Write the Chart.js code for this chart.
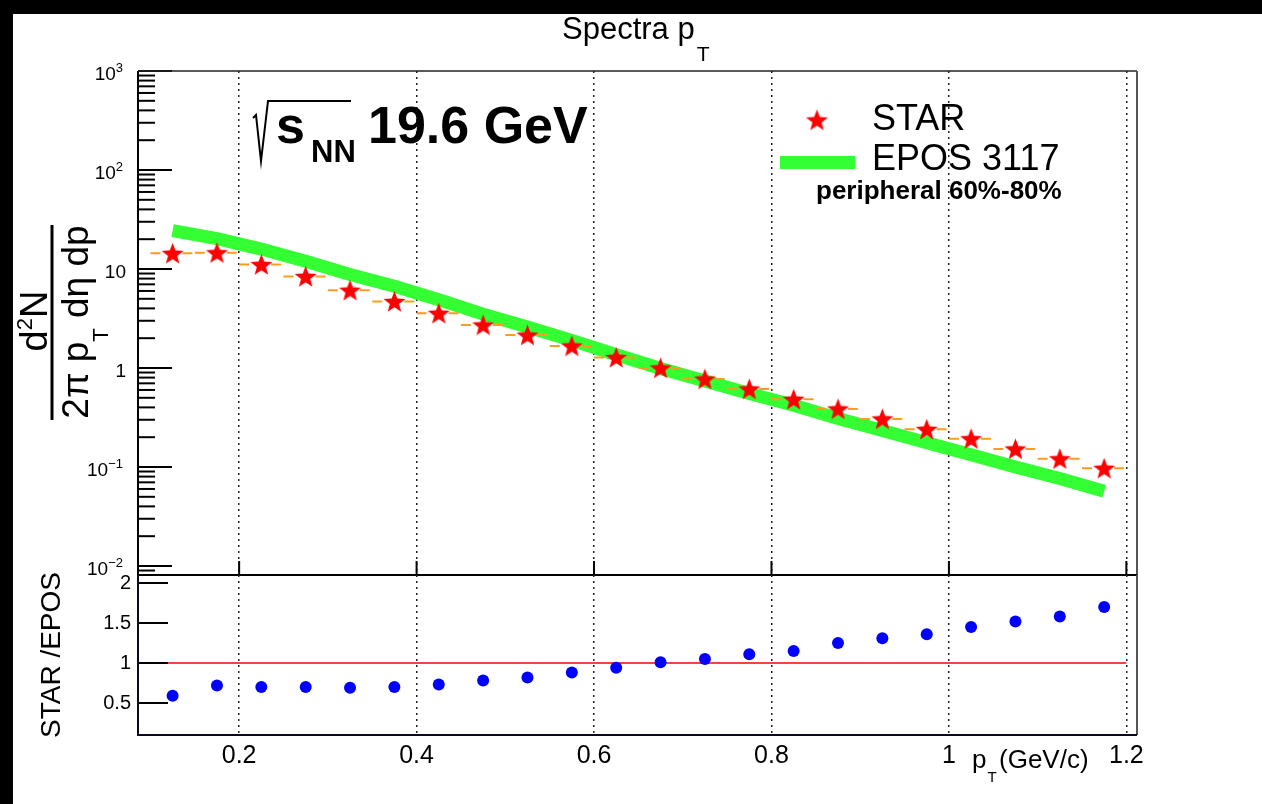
<!DOCTYPE html>
<html>
<head>
<meta charset="utf-8">
<script src="https://cdn.jsdelivr.net/npm/chart.js@4.4.1/dist/chart.umd.min.js"></script>
<style>
html, body { margin: 0; padding: 0; background: #fff; }
#wrap { position: relative; width: 1262px; height: 804px; overflow: hidden; background: #fff; }
canvas { position: absolute; left: 0; top: 0; }
.bar { position: absolute; background: #000; }
</style>
</head>
<body>
<div id="wrap">
  <canvas id="spectra" width="1262" height="804"></canvas>
  <canvas id="ratio" width="1262" height="804"></canvas>
  <div class="bar" style="left:0;top:0;width:1262px;height:14px"></div>
  <div class="bar" style="left:0;top:0;width:13px;height:804px"></div>
</div>
<script>
var FONT = '"Liberation Sans", Arial, Helvetica, sans-serif';
Chart.defaults.font.family = FONT;
Chart.defaults.color = '#000';

// values
var ptBins = [0.125, 0.175, 0.225, 0.275, 0.325, 0.375, 0.425, 0.475, 0.525, 0.575, 0.625,
              0.675, 0.725, 0.775, 0.825, 0.875, 0.925, 0.975, 1.025, 1.075, 1.125, 1.175];
var binHalfWidth = 0.025;
var starValues = [14.4, 14.6, 11.1, 8.4, 6.1, 4.7, 3.57, 2.72, 2.15, 1.67, 1.28,
                  1.0, 0.774, 0.614, 0.483, 0.386, 0.306, 0.240, 0.193, 0.152, 0.121, 0.097];
var eposValues = [24.4, 20.3, 15.9, 12.0, 8.8, 6.7, 4.9, 3.5, 2.6, 1.9, 1.36,
                  0.99, 0.737, 0.553, 0.42, 0.309, 0.234, 0.176, 0.133, 0.100, 0.0766, 0.057];
var ratioValues = [0.59, 0.72, 0.70, 0.70, 0.69, 0.70, 0.73, 0.78, 0.82, 0.88, 0.94,
                   1.01, 1.05, 1.11, 1.15, 1.25, 1.31, 1.36, 1.45, 1.52, 1.58, 1.70];
var unityX = [0.1, 1.2];
var unityY = [1, 1];

// axes
var xMin = 0.086, xMax = 1.212;
var xTicks = [0.2, 0.4, 0.6, 0.8, 1.0, 1.2];
var xTickLabels = ['0.2', '0.4', '0.6', '0.8', '1', '1.2'];
var logMin = 0.00811, logMax = 1000;
var logTickValues = [1000, 100, 10, 1, 0.1, 0.01];
var logTickBase = ['10', '10', '10', '1', '10', '10'];
var logTickExp = ['3', '2', '', '', '\u22121', '\u22122'];
var ratioMin = 0.1, ratioMax = 2.1;
var ratioTicks = [0.5, 1, 1.5, 2];
var ratioTickLabels = ['0.5', '1', '1.5', '2'];

function makeStar(r, color) {
    var c = document.createElement('canvas');
    var s = Math.ceil(2 * r + 2);
    c.width = s; c.height = s;
    var g = c.getContext('2d');
    g.fillStyle = color;
    g.beginPath();
    for (var i = 0; i < 10; i++) {
        var rad = (i % 2) ? r * 0.42 : r;
        var ang = -Math.PI / 2 + i * Math.PI / 5;
        var px = s / 2 + rad * Math.cos(ang), py = s / 2 + 1 + rad * Math.sin(ang);
        if (i == 0) g.moveTo(px, py); else g.lineTo(px, py);
    }
    g.closePath();
    g.fill();
    return c;
}
var starImg = makeStar(11.5, '#ff0000');

function txt(ctx, s, x, y, size, bold, align) {
    ctx.font = (bold ? 'bold ' : '') + size + 'px ' + FONT;
    ctx.textAlign = align || 'left';
    ctx.textBaseline = 'alphabetic';
    ctx.fillText(s, x, y);
    return ctx.measureText(s).width;
}
function wid(ctx, s, size, bold) {
    ctx.font = (bold ? 'bold ' : '') + size + 'px ' + FONT;
    return ctx.measureText(s).width;
}

var binSegments = [];
ptBins.forEach(function (x, i) {
    binSegments.push({ x: x - binHalfWidth, y: starValues[i] });
    binSegments.push({ x: x + binHalfWidth, y: starValues[i] });
    binSegments.push({ x: x + binHalfWidth, y: null });
});

function setXTicks(scale) {
    scale.ticks = xTicks.map(function (v) { return { value: v }; });
}

var spectraDecor = {
    id: 'spectraDecor',
    afterDraw: function (chart) {
        var ctx = chart.ctx, a = chart.chartArea, xs = chart.scales.x, ys = chart.scales.y;
        ctx.save();
        // inside ticks
        ctx.strokeStyle = '#000';
        ctx.lineWidth = 2;
        ys.ticks.forEach(function (t) {
            var y = ys.getPixelForValue(t.value);
            var lg = Math.log10(t.value);
            var major = Math.abs(lg - Math.round(lg)) < 1e-6;
            ctx.beginPath(); ctx.moveTo(a.left, y); ctx.lineTo(a.left + (major ? 34 : 17), y); ctx.stroke();
        });
        xs.ticks.forEach(function (t) {
            var x = xs.getPixelForValue(t.value);
            ctx.beginPath(); ctx.moveTo(x, a.bottom); ctx.lineTo(x, a.bottom - 14); ctx.stroke();
        });
        // frame
        ctx.lineWidth = 1.5; ctx.strokeStyle = '#222';
        ctx.beginPath(); ctx.moveTo(a.left, a.top); ctx.lineTo(a.right, a.top); ctx.stroke();
        ctx.lineWidth = 2; ctx.strokeStyle = '#555';
        ctx.beginPath(); ctx.moveTo(a.right, a.top); ctx.lineTo(a.right, a.bottom); ctx.stroke();
        ctx.strokeStyle = '#000';
        ctx.beginPath(); ctx.moveTo(a.left, a.top); ctx.lineTo(a.left, a.bottom); ctx.lineTo(a.right, a.bottom); ctx.stroke();

        // log tick labels
        ctx.fillStyle = '#000';
        logTickValues.forEach(function (v, i) {
            var y = ys.getPixelForValue(v) + 9;
            if (logTickExp[i]) {
                var we = wid(ctx, logTickExp[i], 13, false);
                txt(ctx, logTickExp[i], 123, y - 8, 13, false, 'right');
                txt(ctx, logTickBase[i], 123 - we, y, 19, false, 'right');
            } else {
                txt(ctx, logTickBase[i], 126, y, 19, false, 'right');
            }
        });

        // title
        var w = txt(ctx, 'Spectra p', 562, 39, 31, false);
        txt(ctx, 'T', 562 + w + 2, 61, 21, false);

        // legend
        ctx.drawImage(starImg, 817 - starImg.width / 2, 120 - starImg.height / 2);
        ctx.fillStyle = '#33ff33';
        ctx.fillRect(780, 156, 75, 13);
        ctx.fillStyle = '#000';
        txt(ctx, 'STAR', 872, 130, 36, false);
        txt(ctx, 'EPOS 3117', 872, 170, 36, false);
        txt(ctx, 'peripheral 60%-80%', 816, 199, 26, true);

        // sqrt(s_NN) label
        ctx.lineWidth = 2; ctx.strokeStyle = '#000';
        ctx.beginPath();
        ctx.moveTo(253, 118); ctx.lineTo(256, 115); ctx.lineTo(261, 161); ctx.lineTo(268, 101); ctx.lineTo(351, 101);
        ctx.stroke();
        txt(ctx, 's', 276, 143, 52, true);
        txt(ctx, 'NN', 311, 162, 31, true);
        txt(ctx, '19.6 GeV', 368, 143, 52, true);

        // y axis title (fraction)
        ctx.save();
        ctx.translate(47, 321);
        ctx.rotate(-Math.PI / 2);
        var n1 = wid(ctx, 'd', 38), n2 = wid(ctx, '2', 22), n3 = wid(ctx, 'N', 38);
        var x0 = -(n1 + n2 + n3) / 2;
        txt(ctx, 'd', x0, 0, 38); txt(ctx, '2', x0 + n1, -15, 22); txt(ctx, 'N', x0 + n1 + n2, 0, 38);
        ctx.restore();
        ctx.fillRect(50.5, 225, 3, 195);
        ctx.save();
        ctx.translate(88, 322);
        ctx.rotate(-Math.PI / 2);
        var d1 = wid(ctx, '2\u03c0 p', 37), d2 = wid(ctx, 'T', 22), d3 = wid(ctx, ' d\u03b7 dp', 37);
        x0 = -(d1 + d2 + d3) / 2;
        txt(ctx, '2\u03c0 p', x0, 0, 37); txt(ctx, 'T', x0 + d1, 20, 22); txt(ctx, ' d\u03b7 dp', x0 + d1 + d2, 0, 37);
        ctx.restore();
        ctx.restore();
    }
};

var ratioDecor = {
    id: 'ratioDecor',
    afterDraw: function (chart) {
        var ctx = chart.ctx, a = chart.chartArea, ys = chart.scales.y;
        ctx.save();
        ctx.strokeStyle = '#000';
        ctx.lineWidth = 2;
        ys.ticks.forEach(function (t) {
            var y = ys.getPixelForValue(t.value);
            ctx.beginPath(); ctx.moveTo(a.left, y); ctx.lineTo(a.left + 30, y); ctx.stroke();
        });
        ctx.strokeStyle = '#555';
        ctx.beginPath(); ctx.moveTo(a.right, a.top); ctx.lineTo(a.right, a.bottom); ctx.stroke();
        ctx.strokeStyle = '#0a0a1e';
        ctx.beginPath(); ctx.moveTo(a.left, a.top); ctx.lineTo(a.left, a.bottom); ctx.lineTo(a.right, a.bottom); ctx.stroke();

        ctx.fillStyle = '#000';
        ctx.save();
        ctx.translate(60, 655);
        ctx.rotate(-Math.PI / 2);
        txt(ctx, 'STAR /EPOS', 0, 0, 28, false, 'center');
        ctx.restore();

        var w = txt(ctx, 'p', 972, 768, 26, false);
        txt(ctx, 'T', 972 + w + 1, 782, 15, false);
        txt(ctx, '(GeV/c)', 999, 768, 26, false);
        ctx.restore();
    }
};

new Chart(document.getElementById('spectra'), {
    type: 'line',
    data: {
        datasets: [
            { label: 'STAR', data: ptBins.map(function (x, i) { return { x: x, y: starValues[i] }; }),
              showLine: false, pointStyle: starImg, pointRadius: 11, order: 0 },
            { label: 'STAR bins', data: binSegments, borderColor: '#ff9c1a', borderWidth: 2,
              borderDash: [10, 6], pointRadius: 0, spanGaps: false, order: 1 },
            { label: 'EPOS 3117', data: ptBins.map(function (x, i) { return { x: x, y: eposValues[i] }; }),
              borderColor: '#33ff33', borderWidth: 13, borderCapStyle: 'butt', pointRadius: 0, order: 2 }
        ]
    },
    options: {
        responsive: false, animation: false, events: [], devicePixelRatio: 1,
        layout: { padding: { left: 13, right: 125, top: 71, bottom: 229 } },
        plugins: { legend: { display: false }, tooltip: { enabled: false } },
        scales: {
            x: {
                type: 'linear', min: xMin, max: xMax,
                afterBuildTicks: setXTicks,
                afterFit: function (s) { s.height = 0; },
                ticks: { display: false },
                grid: { color: '#222', lineWidth: 1.5, drawTicks: false },
                border: { display: false, dash: [2, 4] }
            },
            y: {
                type: 'logarithmic', min: logMin, max: logMax,
                afterFit: function (s) { s.width = 125; },
                afterBuildTicks: function (s) {
                    var t = [];
                    for (var e = -3; e <= 2; e++) {
                        for (var m = 1; m <= 9; m++) {
                            var v = m * Math.pow(10, e);
                            if (v >= logMin && v <= logMax) t.push({ value: v });
                        }
                    }
                    t.push({ value: 1000 });
                    s.ticks = t;
                },
                ticks: { display: false },
                grid: { display: false },
                border: { display: false }
            }
        }
    },
    plugins: [spectraDecor]
});

new Chart(document.getElementById('ratio'), {
    type: 'line',
    data: {
        datasets: [
            { label: 'STAR /EPOS', data: ptBins.map(function (x, i) { return { x: x, y: ratioValues[i] }; }),
              showLine: false, pointStyle: 'circle', pointRadius: 6, backgroundColor: '#0000ff',
              borderWidth: 0, order: 0 },
            { label: 'unity', data: unityX.map(function (x, i) { return { x: x, y: unityY[i] }; }),
              borderColor: '#ff0000', borderWidth: 1.5, pointRadius: 0, order: 1 }
        ]
    },
    options: {
        responsive: false, animation: false, events: [], devicePixelRatio: 1,
        layout: { padding: { left: 13, right: 125, top: 575, bottom: 34 } },
        plugins: { legend: { display: false }, tooltip: { enabled: false } },
        scales: {
            x: {
                type: 'linear', min: xMin, max: xMax,
                afterBuildTicks: setXTicks,
                afterFit: function (s) { s.height = 35; },
                ticks: { font: { size: 25 }, color: '#000', padding: 6, maxRotation: 0, autoSkip: false,
                         callback: function (v, i) { return xTickLabels[i]; } },
                grid: { color: '#222', lineWidth: 1.5, drawTicks: false },
                border: { display: false, dash: [2, 4] }
            },
            y: {
                type: 'linear', min: ratioMin, max: ratioMax,
                afterFit: function (s) { s.width = 125; },
                afterBuildTicks: function (s) { s.ticks = ratioTicks.map(function (v) { return { value: v }; }); },
                ticks: { font: { size: 20 }, color: '#000', padding: 7,
                         callback: function (v, i) { return ratioTickLabels[i]; } },
                grid: { display: false, drawTicks: false },
                border: { display: false }
            }
        }
    },
    plugins: [ratioDecor]
});
</script>
</body>
</html>
